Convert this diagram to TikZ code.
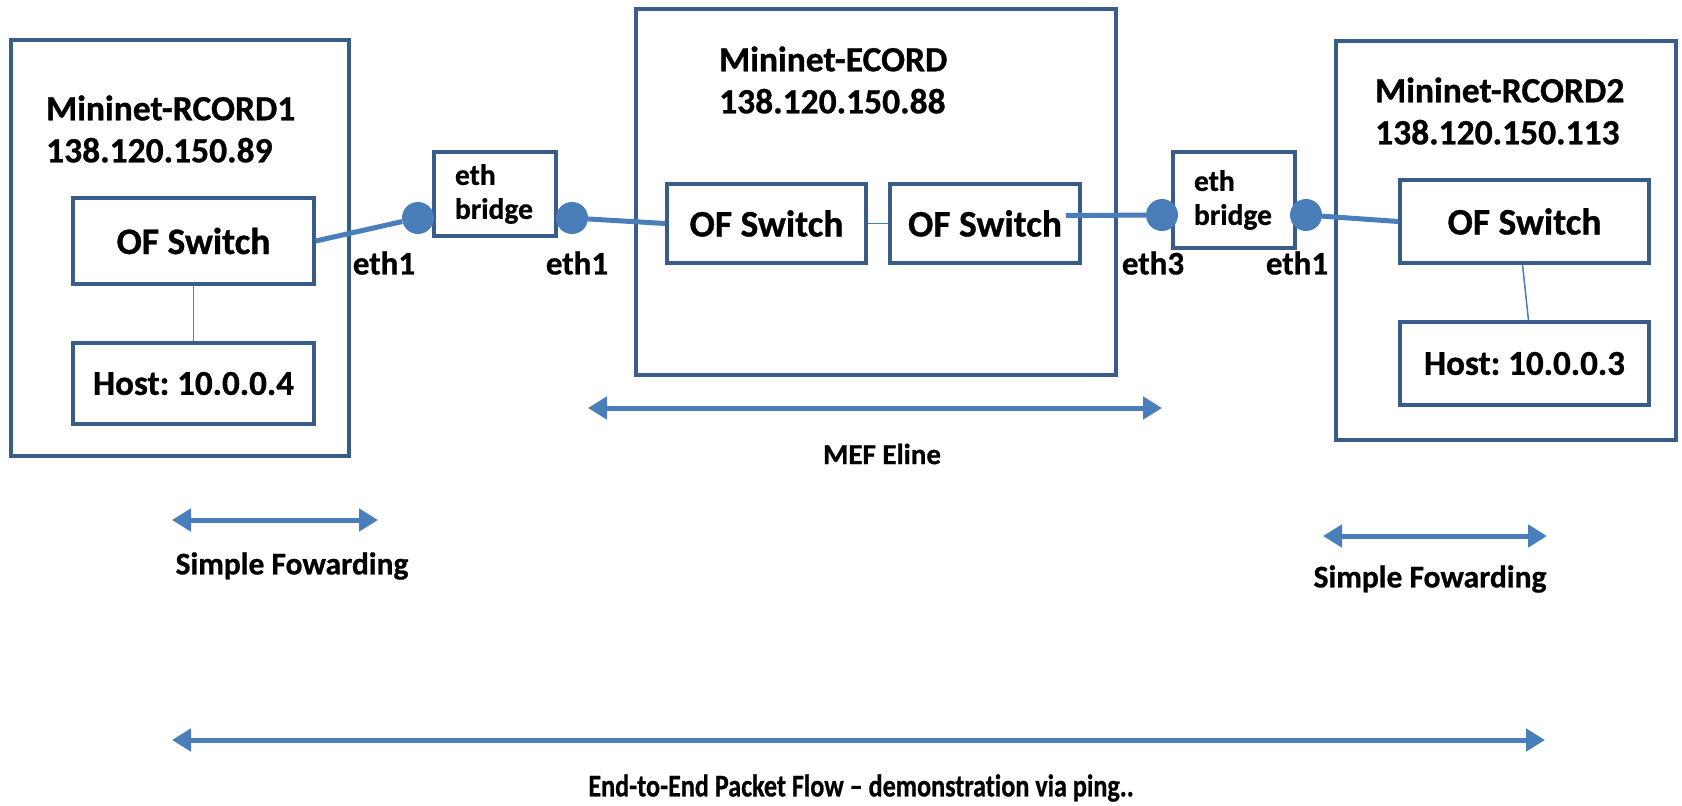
\documentclass[tikz,border=0pt]{standalone}
\usepackage{fontspec}
\setmainfont{Carlito}[Ligatures=NoCommon,BoldFeatures={FakeBold=0.8}]
\frenchspacing
\usetikzlibrary{arrows.meta}
\definecolor{boxblue}{HTML}{385D8A}
\definecolor{linkblue}{HTML}{4A7EBB}
\tikzstyle{every node}=[font=\bfseries]
\tikzstyle{machine}=[draw=boxblue,line width=3.5pt,inner sep=0pt]
\tikzstyle{device}=[draw=boxblue,line width=3.5pt,inner sep=0pt,font=\fontsize{37.5}{42}\selectfont\bfseries]
\tikzstyle{hostdev}=[device,font=\fontsize{35}{42}\selectfont\bfseries]
\tikzstyle{bridge}=[device,align=left,text width=80pt,inner xsep=21pt,font=\fontsize{29.5}{34}\selectfont\bfseries]
\tikzstyle{title}=[anchor=west,align=left,inner sep=0pt,font=\fontsize{35.5}{42}\selectfont\bfseries]
\tikzstyle{port}=[circle,fill=linkblue,minimum size=32pt,inner sep=0pt]
\tikzstyle{link}=[linkblue,line width=5pt]
\tikzstyle{thin}=[linkblue,line width=1.5pt]
\tikzstyle{span}=[linkblue,line width=5pt,{Triangle[length=19pt,width=22pt]}-{Triangle[length=19pt,width=22pt]}]
\tikzstyle{ethname}=[inner sep=0pt,font=\fontsize{33}{40}\selectfont\bfseries]
\tikzstyle{note}=[inner sep=0pt,font=\fontsize{31.5}{36}\selectfont\bfseries]
\def\eth#1#2#3{\node[ethname] (#3) at (#2) {#1}}

\begin{document}
\begin{tikzpicture}[x=1pt,y=-1pt]
  \useasboundingbox (0,0) rectangle (1682,806);
  \node[machine,minimum width=338pt,minimum height=416pt] (rcord1) at (180,248) {};
  \node[machine,minimum width=480pt,minimum height=366pt] (ecord) at (876,192) {};
  \node[machine,minimum width=340pt,minimum height=399pt] (rcord2) at (1506,240.5) {};
  \node[title] (rcord1name) at (46,129) {Mininet-RCORD1\\138.120.150.89};
  \node[title] (ecordname) at (719,80) {Mininet-ECORD\\138.120.150.88};
  \node[title] (rcord2name) at (1375,111) {Mininet-RCORD2\\138.120.150.113};

  \node[device,minimum width=241pt,minimum height=86pt] (swa) at (193.5,241) {OF Switch};
  \node[hostdev,minimum width=241pt,minimum height=81pt] (hosta) at (193.5,383.5) {Host: 10.0.0.4};
  \node[device,minimum width=199pt,minimum height=79pt] (swb) at (766.5,223.5) {OF Switch};
  \node[device,minimum width=190pt,minimum height=79pt] (swe) at (985,223.5) {OF Switch};
  \node[device,minimum width=249pt,minimum height=83pt] (swc) at (1524.5,221.5) {OF Switch};
  \node[hostdev,minimum width=249pt,minimum height=83pt] (hostc) at (1524.5,363.5) {Host: 10.0.0.3};

  \node[bridge,minimum height=84pt] (bra) at (495,194) {eth\\bridge};
  \node[bridge,minimum height=96pt] (brb) at (1234,200) {eth\\bridge};
  \node[port] (pa) at (418,218) {};
  \node[port] (pb) at (572,218) {};
  \node[port] (pc) at (1162,215) {};
  \node[port] (pd) at (1306,215) {};

  \draw[thin] (swa) -- (hosta);
  \draw[thin] (swb) -- (swe);
  \draw[thin] ([xshift=-2pt]swc.south) -- ([xshift=4pt]hostc.north);
  \draw[link] (swa.east) -- (pa);
  \draw[link] (pb) -- (swb.west);
  \draw[link] ([shift={(-16,-8)}]swe.east) -- (pc);
  \draw[link] (pd) -- (swc.west);

  \eth{eth1}{384,263}{etha};
  \eth{eth1}{577,263}{ethb};
  \eth{eth3}{1153,263}{ethc};
  \eth{eth1}{1297,263}{ethd};

  \coordinate (mefl) at (588,408);
  \coordinate (mefr) at (1162,408);
  \coordinate (fwal) at (172,520);
  \coordinate (fwar) at (378,520);
  \coordinate (fwbl) at (1323,536);
  \coordinate (fwbr) at (1547,536);
  \coordinate (e2el) at (172,740);
  \coordinate (e2er) at (1545,740);
  \draw[span] (mefl) -- (mefr);
  \draw[span] (fwal) -- (fwar);
  \draw[span] (fwbl) -- (fwbr);
  \draw[span] (e2el) -- (e2er);
  \node[note,font=\fontsize{29}{34}\selectfont\bfseries] (mef) at (882,454) {MEF Eline};
  \node[note] (fwa) at (292,566) {Simple Fowarding};
  \node[note] (fwb) at (1430,579) {Simple Fowarding};
  \node[note,xscale=0.83] (e2e) at (861,788) {End-to-End Packet Flow -- demonstration via ping..};
\end{tikzpicture}
\end{document}
